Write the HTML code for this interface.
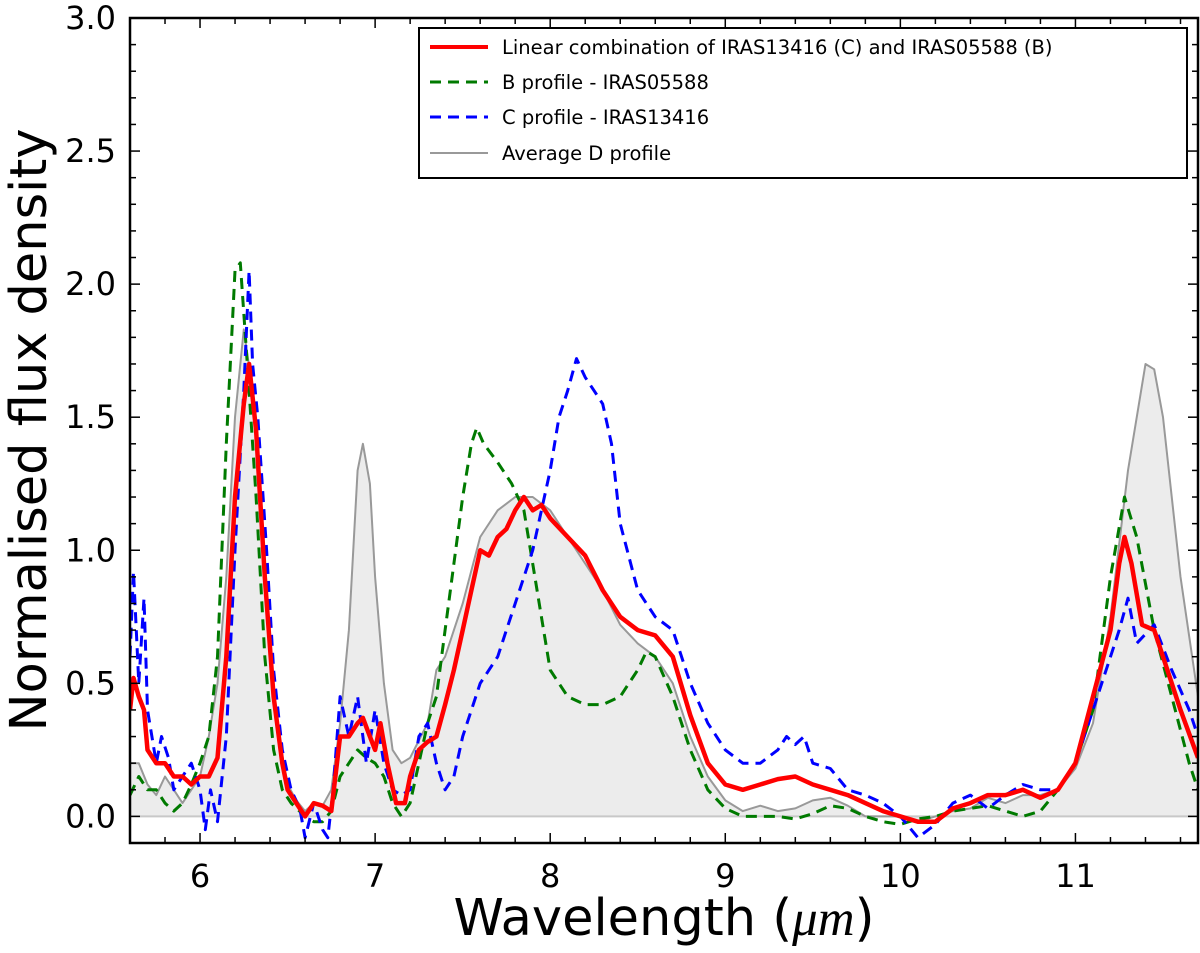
<!DOCTYPE html>
<html><head><meta charset="utf-8"><style>
html,body{margin:0;padding:0;background:#fff}
svg{display:block;font-family:"DejaVu Sans","Liberation Sans",sans-serif}
</style></head><body>
<svg id="chart" width="1200" height="953">
<defs><clipPath id="clip"><rect x="130" y="18" width="1068" height="825"/></clipPath></defs>
<g id="plot" clip-path="url(#clip)"></g>
<g id="axes"></g>
<text x="664" y="935" font-size="51" text-anchor="middle">Wavelength (<tspan font-style="italic" font-family="Liberation Serif,serif">μm</tspan>)</text>
<text transform="translate(46,430) rotate(-90)" font-size="51" text-anchor="middle">Normalised flux density</text>
<g>
<rect x="419" y="28" width="768" height="150" fill="#fff" stroke="#000" stroke-width="2"/>
<line x1="430" y1="47" x2="488" y2="47" stroke="#f00" stroke-width="4"/>
<text x="502" y="54" font-size="19.5">Linear combination of IRAS13416 (C) and IRAS05588 (B)</text>
<line x1="430" y1="82" x2="488" y2="82" stroke="#007a00" stroke-width="3" stroke-dasharray="11,7"/>
<text x="502" y="89" font-size="19.5">B profile - IRAS05588</text>
<line x1="430" y1="117" x2="488" y2="117" stroke="#00f" stroke-width="3" stroke-dasharray="11,7"/>
<text x="502" y="124" font-size="19.5">C profile - IRAS13416</text>
<line x1="430" y1="153" x2="488" y2="153" stroke="#999" stroke-width="2"/>
<text x="502" y="160" font-size="19.5">Average D profile</text>
</g>
</svg>
<script>
const xTicks=[6,7,8,9,10,11];
const yTicks=[0.0,0.5,1.0,1.5,2.0,2.5,3.0];
const dX=[5.6,5.65,5.7,5.75,5.8,5.85,5.9,5.95,6.0,6.05,6.1,6.15,6.2,6.25,6.3,6.35,6.4,6.45,6.5,6.55,6.6,6.65,6.7,6.75,6.8,6.85,6.9,6.93,6.97,7.0,7.05,7.1,7.15,7.2,7.3,7.35,7.4,7.45,7.5,7.6,7.7,7.8,7.9,8.0,8.1,8.2,8.3,8.4,8.5,8.6,8.7,8.8,8.9,9.0,9.1,9.2,9.3,9.4,9.5,9.6,9.7,9.8,9.9,10.0,10.1,10.2,10.3,10.4,10.5,10.6,10.7,10.8,10.9,11.0,11.1,11.2,11.3,11.4,11.45,11.5,11.6,11.7];
const dY=[0.2,0.2,0.12,0.08,0.15,0.1,0.05,0.1,0.15,0.3,0.5,0.9,1.5,1.83,1.6,1.1,0.6,0.3,0.12,0.06,0.02,0.05,0.04,0.1,0.35,0.7,1.3,1.4,1.25,0.9,0.5,0.25,0.2,0.22,0.35,0.55,0.6,0.7,0.8,1.05,1.15,1.2,1.2,1.15,1.05,0.95,0.85,0.72,0.65,0.6,0.5,0.3,0.15,0.06,0.02,0.04,0.02,0.03,0.06,0.07,0.04,0.0,0.0,0.0,-0.02,0.0,0.02,0.03,0.07,0.05,0.08,0.08,0.1,0.18,0.35,0.75,1.3,1.7,1.68,1.5,0.9,0.45];
const bX=[5.6,5.65,5.7,5.75,5.8,5.85,5.9,5.95,6.0,6.05,6.1,6.15,6.2,6.23,6.27,6.32,6.37,6.42,6.47,6.52,6.6,6.65,6.7,6.75,6.8,6.85,6.9,6.95,7.0,7.05,7.1,7.15,7.2,7.25,7.3,7.35,7.4,7.45,7.5,7.55,7.58,7.62,7.7,7.78,7.85,7.9,7.95,8.0,8.1,8.2,8.3,8.4,8.5,8.55,8.6,8.7,8.8,8.9,9.0,9.1,9.2,9.3,9.4,9.5,9.6,9.7,9.8,9.9,10.0,10.1,10.2,10.3,10.4,10.5,10.6,10.7,10.8,10.9,11.0,11.1,11.2,11.28,11.35,11.45,11.55,11.65,11.7];
const bY=[0.08,0.15,0.1,0.1,0.05,0.02,0.05,0.12,0.2,0.3,0.6,1.4,2.05,2.08,1.7,1.2,0.6,0.25,0.1,0.05,0.0,-0.02,-0.02,0.02,0.15,0.2,0.25,0.22,0.2,0.15,0.05,0.0,0.05,0.2,0.35,0.45,0.7,0.95,1.2,1.4,1.46,1.4,1.33,1.25,1.15,0.95,0.75,0.55,0.45,0.42,0.42,0.45,0.55,0.62,0.6,0.45,0.25,0.1,0.03,0.0,0.0,0.0,-0.01,0.01,0.04,0.03,0.0,-0.02,-0.03,-0.01,0.0,0.02,0.03,0.04,0.02,0.0,0.02,0.1,0.2,0.4,0.9,1.2,1.05,0.7,0.45,0.2,0.1];
const cX=[5.6,5.62,5.65,5.68,5.7,5.75,5.78,5.82,5.85,5.9,5.95,6.0,6.03,6.06,6.1,6.15,6.2,6.25,6.28,6.3,6.33,6.38,6.42,6.47,6.52,6.57,6.6,6.65,6.7,6.73,6.76,6.8,6.85,6.9,6.95,7.0,7.05,7.1,7.15,7.2,7.25,7.3,7.35,7.4,7.45,7.5,7.6,7.7,7.75,7.8,7.9,8.0,8.05,8.1,8.15,8.2,8.25,8.3,8.35,8.4,8.5,8.6,8.7,8.8,8.9,9.0,9.1,9.2,9.3,9.35,9.4,9.45,9.5,9.6,9.7,9.8,9.9,10.0,10.1,10.2,10.3,10.4,10.5,10.6,10.7,10.8,10.9,11.0,11.1,11.2,11.25,11.3,11.35,11.45,11.55,11.65,11.7];
const cY=[0.6,0.92,0.5,0.82,0.4,0.2,0.3,0.22,0.1,0.15,0.2,0.1,-0.05,0.1,-0.02,0.3,1.0,1.6,2.05,1.7,1.5,1.0,0.55,0.25,0.1,0.03,-0.08,0.05,-0.05,-0.08,0.1,0.45,0.3,0.45,0.2,0.4,0.2,0.1,0.08,0.1,0.3,0.35,0.2,0.1,0.15,0.3,0.5,0.6,0.7,0.8,1.0,1.3,1.5,1.6,1.72,1.65,1.6,1.55,1.4,1.1,0.85,0.75,0.7,0.5,0.35,0.25,0.2,0.2,0.25,0.3,0.27,0.3,0.2,0.18,0.1,0.08,0.05,0.0,-0.08,-0.03,0.05,0.08,0.03,0.08,0.12,0.1,0.1,0.2,0.4,0.6,0.7,0.82,0.65,0.72,0.55,0.4,0.3];
const rX=[5.6,5.62,5.65,5.68,5.7,5.75,5.8,5.85,5.9,5.95,6.0,6.05,6.1,6.15,6.2,6.25,6.28,6.32,6.37,6.42,6.47,6.5,6.55,6.6,6.65,6.7,6.75,6.8,6.85,6.9,6.93,6.97,7.0,7.03,7.07,7.12,7.17,7.2,7.25,7.3,7.35,7.4,7.45,7.5,7.55,7.6,7.65,7.7,7.75,7.8,7.85,7.9,7.95,8.0,8.1,8.2,8.3,8.4,8.5,8.6,8.7,8.8,8.9,9.0,9.1,9.2,9.3,9.4,9.5,9.6,9.7,9.8,9.9,10.0,10.1,10.2,10.3,10.4,10.5,10.6,10.7,10.8,10.9,11.0,11.1,11.2,11.25,11.28,11.32,11.38,11.45,11.5,11.6,11.7];
const rY=[0.4,0.52,0.45,0.4,0.25,0.2,0.2,0.15,0.15,0.12,0.15,0.15,0.22,0.6,1.2,1.55,1.7,1.45,0.9,0.45,0.2,0.1,0.05,0.0,0.05,0.04,0.02,0.3,0.3,0.35,0.37,0.3,0.25,0.35,0.2,0.05,0.05,0.15,0.25,0.28,0.3,0.42,0.55,0.7,0.85,1.0,0.98,1.05,1.08,1.15,1.2,1.15,1.17,1.12,1.05,0.98,0.85,0.75,0.7,0.68,0.6,0.38,0.2,0.12,0.1,0.12,0.14,0.15,0.12,0.1,0.08,0.05,0.02,0.0,-0.02,-0.02,0.03,0.05,0.08,0.08,0.1,0.07,0.1,0.2,0.45,0.7,0.95,1.05,0.95,0.72,0.7,0.6,0.4,0.22];

const X0=5.6,X1=11.7,Y0=-0.1,Y1=3.0,L=130,R=1198,T=18,B=843;
const sx=v=>L+(v-X0)/(X1-X0)*(R-L);
const sy=v=>B-(v-Y0)/(Y1-Y0)*(B-T);
const NS='http://www.w3.org/2000/svg';
const plot=document.getElementById('plot'),axes=document.getElementById('axes');
function mk(tag,attrs,parent){const e=document.createElementNS(NS,tag);for(const k in attrs)e.setAttribute(k,attrs[k]);parent.appendChild(e);return e;}
function pts(xs,ys){return xs.map((x,i)=>sx(x).toFixed(1)+','+sy(ys[i]).toFixed(1)).join(' ');}

const area=mk('polygon',{points:sx(dX[0])+','+sy(0)+' '+pts(dX,dY)+' '+sx(dX[dX.length-1])+','+sy(0),fill:'#ececec',stroke:'none'},plot);


const zl=mk('line',{x1:L,x2:R,y1:sy(0),y2:sy(0),stroke:'#c8c8c8','stroke-width':2},plot);


const dl=mk('polyline',{points:pts(dX,dY),fill:'none',stroke:'#999','stroke-width':2,'stroke-linejoin':'round'},plot);


const bl=mk('polyline',{points:pts(bX,bY),fill:'none',stroke:'#007a00','stroke-width':3,'stroke-dasharray':'11,7','stroke-linejoin':'round'},plot);


const cl=mk('polyline',{points:pts(cX,cY),fill:'none',stroke:'#00f','stroke-width':3,'stroke-dasharray':'11,7','stroke-linejoin':'round'},plot);


const rl=mk('polyline',{points:pts(rX,rY),fill:'none',stroke:'#f00','stroke-width':4.5,'stroke-linejoin':'round'},plot);



const frame=mk('rect',{x:L,y:T,width:R-L,height:B-T,fill:'none',stroke:'#000','stroke-width':2.5},axes);


for(let v=5.6;v<=11.71;v+=0.2){const x=sx(v);const major=Math.abs(v-Math.round(v))<1e-6;const len=major?10:6;
 mk('line',{x1:x,x2:x,y1:B,y2:B-len,stroke:'#000','stroke-width':1.5},axes);
 mk('line',{x1:x,x2:x,y1:T,y2:T+len,stroke:'#000','stroke-width':1.5},axes);}
xTicks.forEach(v=>{const t=mk('text',{x:sx(v),y:B+44,'font-size':32,'text-anchor':'middle'},axes);t.textContent=String(v);
 
 });
for(let v=-0.1;v<=3.01;v+=0.1){const y=sy(v);const major=Math.abs(v*2-Math.round(v*2))<1e-6;const len=major?10:6;
 mk('line',{x1:L,x2:L+len,y1:y,y2:y,stroke:'#000','stroke-width':1.5},axes);
 mk('line',{x1:R,x2:R-len,y1:y,y2:y,stroke:'#000','stroke-width':1.5},axes);}
yTicks.forEach(v=>{const t=mk('text',{x:L-14,y:sy(v)+11,'font-size':32,'text-anchor':'end'},axes);t.textContent=v.toFixed(1);
 
 });
</script>
</body></html>
